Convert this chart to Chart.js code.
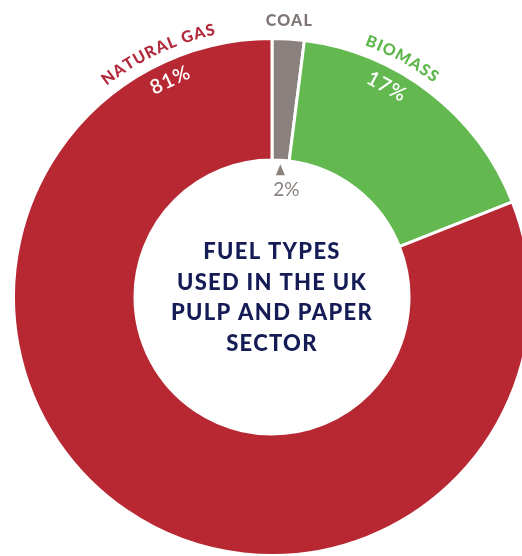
<!DOCTYPE html>
<html>
<head>
<meta charset="utf-8">
<script src="https://cdn.jsdelivr.net/npm/chart.js@4"></script>
<style>
  html, body { margin: 0; padding: 0; background: #fff; }
  #wrap { width: 522px; height: 556px; overflow: hidden; position: relative; }
  #fuelChart { position: absolute; left: 0; top: 0; }
</style>
</head>
<body>
<div id="wrap"><canvas id="fuelChart" width="560" height="560"></canvas></div>
<script>
// data, clockwise from 12 o'clock
const fuelNames = ['COAL', 'BIOMASS', 'NATURAL GAS'];
const fuelShares = [2, 17, 81];
const shareLabels = ['2%', '17%', '81%'];
const centerTitle = ['FUEL TYPES', 'USED IN THE UK', 'PULP AND PAPER', 'SECTOR'];

const sliceColors = ['#8a807d', '#63b94f', '#b72833'];
const nameColors = ['#7e7674', '#5db64a', '#b1293a'];
// where along each slice the name / percent sits (0 = start, 1 = end)
const labelAt = [0.5, 0.35, 0.914];

function curvedText(ctx, text, cx, cy, r, angle, spacing) {
    // angle measured clockwise from 12 o'clock, text reads clockwise
    let total = 0;
    const widths = [];
    for (const ch of text) {
        const w = ctx.measureText(ch).width;
        widths.push(w);
        total += w + spacing;
    }
    total -= spacing;
    let a = angle - total / 2 / r;
    let i = 0;
    for (const ch of text) {
        const w = widths[i++];
        const mid = a + w / 2 / r;
        ctx.save();
        ctx.translate(cx + r * Math.sin(mid), cy - r * Math.cos(mid));
        ctx.rotate(mid);
        ctx.fillText(ch, 0, 0);
        ctx.restore();
        a += (w + spacing) / r;
    }
}

const fuelLabels = {
    id: 'fuelLabels',
    afterDraw(chart) {
        const ctx = chart.ctx;
        const meta = chart.getDatasetMeta(0);
        meta.data.forEach((arc, i) => {
            const p = arc.getProps(['x', 'y', 'startAngle', 'endAngle', 'outerRadius', 'innerRadius'], true);
            // chart.js angles start at 3 o'clock, convert to "from top"
            const a0 = p.startAngle + Math.PI / 2;
            const a1 = p.endAngle + Math.PI / 2;
            const ang = a0 + (a1 - a0) * labelAt[i];
            ctx.save();
            ctx.textAlign = 'center';
            ctx.textBaseline = 'middle';
            if (i === 0) {
                // small slice: name on top, flat; percent inside the hole with a marker
                const rn = p.outerRadius + 18;
                ctx.font = '900 16px Lato';
                ctx.letterSpacing = '1.2px';
                ctx.fillStyle = nameColors[i];
                ctx.fillText(fuelNames[i], p.x + rn * Math.sin(ang), p.y - rn * Math.cos(ang));
                ctx.letterSpacing = '0px';
                const tx = p.x + (p.innerRadius - 4) * Math.sin(ang);
                const ty = p.y - (p.innerRadius - 4) * Math.cos(ang);
                ctx.beginPath();
                ctx.moveTo(tx, ty);
                ctx.lineTo(tx + 4.5, ty + 11);
                ctx.lineTo(tx - 4.5, ty + 11);
                ctx.closePath();
                ctx.fillStyle = sliceColors[i];
                ctx.fill();
                ctx.font = '19px Lato';
                ctx.fillStyle = '#8a817e';
                ctx.fillText(shareLabels[i], tx + 6, ty + 26);
            } else {
                ctx.font = '900 16px Lato';
                ctx.fillStyle = nameColors[i];
                curvedText(ctx, fuelNames[i], p.x, p.y, p.outerRadius + 15, ang, 1.3);
                ctx.font = '600 20px Lato';
                ctx.fillStyle = '#ffffff';
                const rp = p.outerRadius - 19;
                ctx.translate(p.x + rp * Math.sin(ang), p.y - rp * Math.cos(ang));
                ctx.rotate(ang);
                ctx.letterSpacing = '1px';
                ctx.fillText(shareLabels[i], 0, 0);
            }
            ctx.restore();
        });

        // title in the hole
        const c = meta.data[0];
        ctx.save();
        ctx.textAlign = 'center';
        ctx.textBaseline = 'middle';
        ctx.font = '900 22px Lato';
        ctx.letterSpacing = '1.3px';
        ctx.fillStyle = '#151c55';
        const lh = 30.5;
        centerTitle.forEach((line, k) => {
            ctx.fillText(line, c.x, c.y + 1 + (k - (centerTitle.length - 1) / 2) * lh);
        });
        ctx.restore();
    }
};

new Chart(document.getElementById('fuelChart').getContext('2d'), {
    type: 'doughnut',
    data: {
        labels: fuelNames,
        datasets: [{
            data: fuelShares,
            backgroundColor: sliceColors,
            borderColor: '#ffffff',
            borderWidth: 3
        }]
    },
    options: {
        responsive: false,
        animation: false,
        cutout: '53%',
        layout: { padding: { left: 12, top: 37, right: 28, bottom: 3 } },
        plugins: {
            legend: { display: false },
            tooltip: { enabled: false }
        }
    },
    plugins: [fuelLabels]
});
</script>
</body>
</html>
